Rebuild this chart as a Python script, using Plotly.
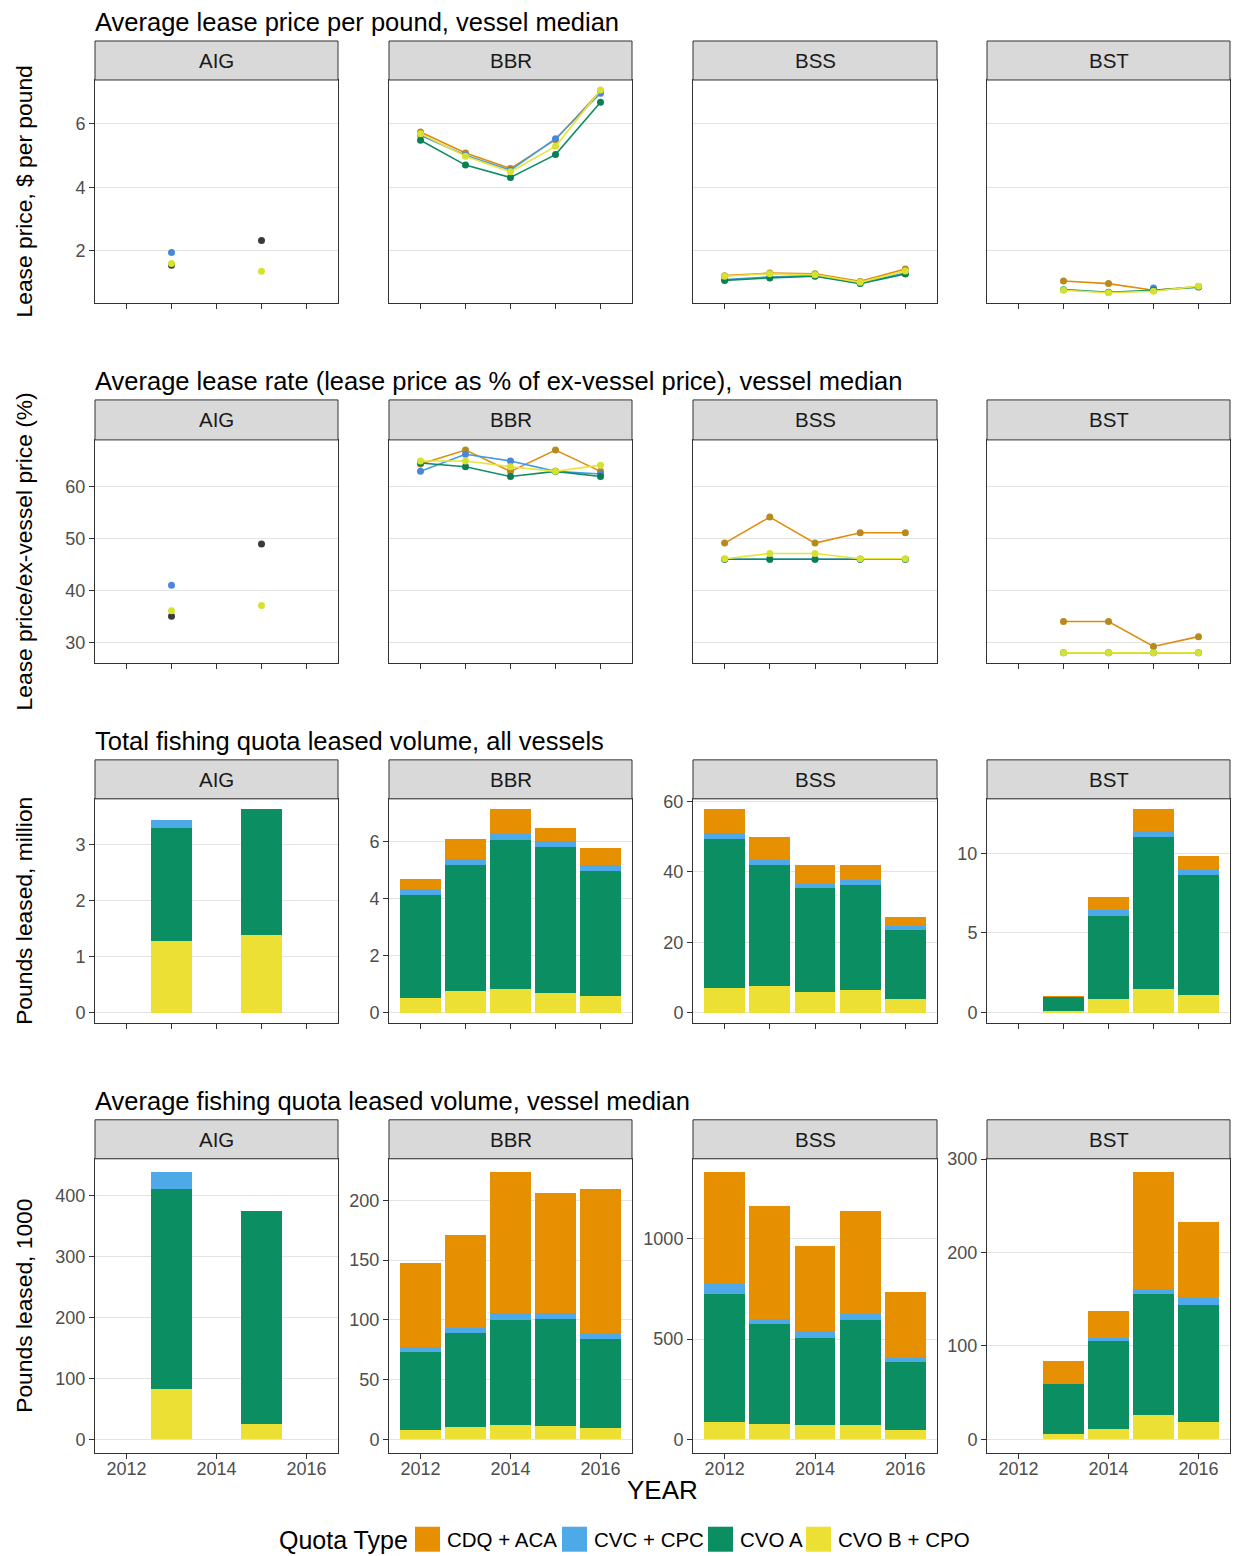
import plotly.graph_objects as go

# ---------------- data ----------------
years = [2012, 2013, 2014, 2015, 2016]
regions = ["AIG", "BBR", "BSS", "BST"]
quota_types = ["CDQ + ACA", "CVC + CPC", "CVO A", "CVO B + CPO"]

row_titles = [
    "Average lease price per pound, vessel median",
    "Average lease rate (lease price as % of ex-vessel price), vessel median",
    "Total fishing quota leased volume, all vessels",
    "Average fishing quota leased volume, vessel median",
]
row_ylabels = [
    "Lease price, $ per pound",
    "Lease price/ex-vessel price (%)",
    "Pounds leased, million",
    "Pounds leased, 1000",
]

# Row 1: average lease price per pound ($)
price_AIG = {"CVC + CPC": [None, 1.95, None, None, None],
             "CVO B + CPO": [None, 1.60, None, 1.36, None],
             "Other": [None, 1.55, None, 2.33, None]}
price_BBR = {"CDQ + ACA": [5.74, 5.08, 4.59, 5.50, 7.04],
             "CVC + CPC": [5.64, 5.01, 4.54, 5.53, 6.96],
             "CVO A": [5.48, 4.70, 4.31, 5.03, 6.68],
             "CVO B + CPO": [5.69, 4.98, 4.49, 5.29, 7.06]}
price_BSS = {"CDQ + ACA": [1.22, 1.30, 1.28, 1.04, 1.43],
             "CVC + CPC": [1.10, 1.18, 1.22, 0.99, 1.30],
             "CVO A": [1.07, 1.15, 1.20, 0.97, 1.27],
             "CVO B + CPO": [1.20, 1.28, 1.25, 1.01, 1.37]}
price_BST = {"CDQ + ACA": [None, 1.05, 0.97, 0.76, 0.88],
             "CVC + CPC": [None, None, None, 0.83, None],
             "CVO A": [None, 0.78, 0.70, 0.76, 0.86],
             "CVO B + CPO": [None, 0.76, 0.68, 0.73, 0.89]}

# Row 2: lease rate (% of ex-vessel price)
rate_AIG = {"CVC + CPC": [None, 41.0, None, None, None],
            "CVO B + CPO": [None, 36.1, None, 37.1, None],
            "Other": [None, 35.0, None, 48.9, None]}
rate_BBR = {"CDQ + ACA": [64.3, 67.0, 62.9, 67.0, 62.9],
            "CVC + CPC": [62.9, 66.2, 64.9, 62.9, 62.4],
            "CVO A": [64.5, 63.8, 61.9, 62.9, 61.9],
            "CVO B + CPO": [64.9, 64.9, 63.8, 62.9, 64.1]}
rate_BSS = {"CDQ + ACA": [49.1, 54.1, 49.1, 51.1, 51.1],
            "CVC + CPC": [46.0, 46.0, 46.0, 46.0, 46.0],
            "CVO A": [46.0, 46.0, 46.0, 46.0, 46.0],
            "CVO B + CPO": [46.1, 47.1, 47.1, 46.1, 46.1]}
rate_BST = {"CDQ + ACA": [None, 34.0, 34.0, 29.2, 31.1],
            "CVO A": [None, 28.0, 28.0, 28.0, 28.0],
            "CVO B + CPO": [None, 28.0, 28.0, 28.0, 28.0]}

# Row 3: total leased volume, million lbs (stack segments)
total_AIG = {"CDQ + ACA": [None, None, None, None, None],
             "CVC + CPC": [None, 0.15, None, None, None],
             "CVO A": [None, 2.02, None, 2.26, None],
             "CVO B + CPO": [None, 1.28, None, 1.38, None]}
total_BBR = {"CDQ + ACA": [0.35, 0.71, 0.88, 0.46, 0.59],
             "CVC + CPC": [0.20, 0.20, 0.21, 0.24, 0.21],
             "CVO A": [3.64, 4.43, 5.24, 5.12, 4.39],
             "CVO B + CPO": [0.50, 0.76, 0.82, 0.68, 0.59]}
total_BSS = {"CDQ + ACA": [6.7, 6.6, 5.4, 4.3, 2.8],
             "CVC + CPC": [1.9, 1.4, 1.2, 1.4, 1.0],
             "CVO A": [42.4, 34.3, 29.4, 29.9, 19.7],
             "CVO B + CPO": [6.9, 7.7, 6.0, 6.4, 3.8]}
total_BST = {"CDQ + ACA": [None, 0.05, 0.84, 1.36, 0.83],
             "CVC + CPC": [None, 0.0, 0.37, 0.37, 0.38],
             "CVO A": [None, 0.87, 5.23, 9.56, 7.53],
             "CVO B + CPO": [None, 0.13, 0.84, 1.49, 1.11]}

# Row 4: median leased volume, 1000 lbs (stack segments)
median_AIG = {"CDQ + ACA": [None, None, None, None, None],
              "CVC + CPC": [None, 27.1, None, None, None],
              "CVO A": [None, 328.2, None, 349.9, None],
              "CVO B + CPO": [None, 82.7, None, 24.5, None]}
median_BBR = {"CDQ + ACA": [70.3, 77.8, 118.0, 100.0, 120.5],
              "CVC + CPC": [4.7, 3.9, 5.6, 5.0, 4.5],
              "CVO A": [65.3, 78.6, 87.8, 90.0, 75.0],
              "CVO B + CPO": [7.5, 10.3, 12.2, 11.1, 9.4]}
median_BSS = {"CDQ + ACA": [560.0, 566.6, 422.6, 513.0, 331.0],
              "CVC + CPC": [49.5, 24.5, 33.0, 28.0, 20.0],
              "CVO A": [637.5, 496.5, 435.0, 523.0, 339.0],
              "CVO B + CPO": [86.0, 78.0, 73.0, 73.0, 45.0]}
median_BST = {"CDQ + ACA": [None, 25.6, 29.2, 125.0, 81.6],
              "CVC + CPC": [None, 0.0, 1.8, 5.0, 7.1],
              "CVO A": [None, 53.5, 95.5, 130.4, 125.8],
              "CVO B + CPO": [None, 5.3, 10.7, 25.6, 18.5]}

row_data = [
    [price_AIG, price_BBR, price_BSS, price_BST],
    [rate_AIG, rate_BBR, rate_BSS, rate_BST],
    [total_AIG, total_BBR, total_BSS, total_BST],
    [median_AIG, median_BBR, median_BSS, median_BST],
]

# ---------------- styles ----------------
W, H = 1236, 1556
FONT = "Liberation Sans, Arial, Helvetica, sans-serif"
bar_colors = {"CDQ + ACA": "#E68F00", "CVC + CPC": "#4EA9E8",
              "CVO A": "#0B8E62", "CVO B + CPO": "#ECE034"}
line_colors = {"CDQ + ACA": "#E08C0A", "CVC + CPC": "#3F9BE6",
               "CVO A": "#0B8E62", "CVO B + CPO": "#E8E43A", "Other": "#3A3A3A"}
marker_colors = {"CDQ + ACA": "#B88A1E", "CVC + CPC": "#4A86DE",
                 "CVO A": "#0A7F55", "CVO B + CPO": "#D6E232", "Other": "#3A3A3A"}

col_px = [(95, 338), (389, 632), (693, 937), (987, 1230)]
row_px = [(40, 79, 302), (399, 439, 662), (759, 798, 1022), (1119, 1158, 1452)]
row_tick_steps = [
    [2, 2, 2, 2],
    [10, 10, 10, 10],
    [1, 2, 20, 5],
    [100, 50, 500, 100],
]
XRANGE = [2011.3, 2016.7]

# vertical calibration of the rendered page (observed offset/compression)
Y_OFF, Y_SCALE = 8.0, 0.9944


def fx(px):
    return px / W


def fy(py):
    p = (py - Y_OFF) / Y_SCALE
    return 1 - p / H


fig = go.Figure()
layout = dict(
    width=W, height=H, margin=dict(l=0, r=0, t=0, b=0),
    paper_bgcolor="white", plot_bgcolor="white",
    barmode="stack", showlegend=False,
    font=dict(family=FONT, color="#000000"),
)
shapes = []
annotations = []

for r in range(4):
    strip_top, p_top, p_bot = row_px[r]
    if r < 2:
        vals = [v for d in row_data[r] for lst in d.values() for v in lst if v is not None]
        lo, hi = min(vals), max(vals)
        pad = 0.05 * (hi - lo)
        shared_range = [lo - pad, hi + pad]
    for c in range(4):
        k = r * 4 + c + 1
        xname = "x" if k == 1 else f"x{k}"
        yname = "y" if k == 1 else f"y{k}"
        left, right = col_px[c]
        data = row_data[r][c]

        if r < 2:
            order = ["Other"] + quota_types
            for q in order:
                if q not in data:
                    continue
                is_other = q == "Other" or c == 0
                fig.add_trace(go.Scatter(
                    x=years, y=data[q], xaxis=xname, yaxis=yname,
                    mode="markers" if is_other else "lines+markers",
                    line=dict(color=line_colors[q], width=1.6),
                    marker=dict(color=marker_colors[q], size=7),
                    connectgaps=False, showlegend=False, name=q,
                ))
            yrange = shared_range
        else:
            for q in reversed(quota_types):
                fig.add_trace(go.Bar(
                    x=years, y=data[q], xaxis=xname, yaxis=yname,
                    width=0.9, marker=dict(color=bar_colors[q], line=dict(width=0)),
                    showlegend=False, name=q,
                ))
            totals = [sum(data[q][i] or 0 for q in quota_types) for i in range(len(years))]
            top = max(totals)
            yrange = [-0.05 * top, 1.05 * top]

        step = row_tick_steps[r][c]
        first = step * int((yrange[0] // step) + 1)
        tvals = []
        t = first
        while t <= yrange[1]:
            tvals.append(round(t, 6))
            t += step
        show_y = (r >= 2) or (c == 0)

        xaxis = dict(
            domain=[fx(left), fx(right)], anchor=yname, range=XRANGE,
            showgrid=False, zeroline=False,
            showline=True, mirror=True, linecolor="#333333", linewidth=1,
            ticks="outside", ticklen=5, tickwidth=1, tickcolor="#333333",
            tickfont=dict(family=FONT, size=18, color="#4D4D4D"),
            fixedrange=True,
        )
        if r == 3:
            xaxis.update(tickvals=[2012, 2014, 2016], ticktext=["2012", "2014", "2016"],
                         showticklabels=True, ticklabelstandoff=-5)
        else:
            xaxis.update(tickvals=years, showticklabels=False)
        yaxis = dict(
            domain=[fy(p_bot), fy(p_top)], anchor=xname, range=yrange,
            tickvals=tvals, ticktext=[f"{v:g}" for v in tvals],
            showgrid=True, gridcolor="#E3E3E3", gridwidth=1, zeroline=False,
            showline=True, mirror=True, linecolor="#333333", linewidth=1,
            ticks="outside" if show_y else "", ticklen=5, tickwidth=1, tickcolor="#333333",
            showticklabels=show_y,
            tickfont=dict(family=FONT, size=18, color="#4D4D4D"),
            fixedrange=True,
        )
        layout["xaxis" if k == 1 else f"xaxis{k}"] = xaxis
        layout["yaxis" if k == 1 else f"yaxis{k}"] = yaxis

        shapes.append(dict(type="rect", xref="paper", yref="paper",
                           x0=fx(left), x1=fx(right), y0=fy(p_top), y1=fy(strip_top),
                           fillcolor="#D9D9D9", line=dict(color="#333333", width=1),
                           layer="above"))
        annotations.append(dict(text=regions[c], xref="paper", yref="paper",
                                x=fx((left + right) / 2), y=fy((strip_top + p_top) / 2),
                                xanchor="center", yanchor="middle", showarrow=False,
                                font=dict(family=FONT, size=20.5, color="#1A1A1A")))

    annotations.append(dict(text=row_titles[r], xref="paper", yref="paper",
                            x=fx(93), y=fy(strip_top - 19), xanchor="left", yanchor="middle",
                            showarrow=False, font=dict(family=FONT, size=25.5, color="#000000")))
    annotations.append(dict(text=row_ylabels[r], xref="paper", yref="paper",
                            x=fx(24), y=fy((p_top + p_bot) / 2), xanchor="center", yanchor="middle",
                            textangle=-90, showarrow=False,
                            font=dict(family=FONT, size=22.8, color="#000000")))

annotations.append(dict(text="YEAR", xref="paper", yref="paper", x=fx(662), y=fy(1489),
                        xanchor="center", yanchor="middle", showarrow=False,
                        font=dict(family=FONT, size=26, color="#000000")))

LEG_Y = 1539
annotations.append(dict(text="Quota Type", xref="paper", yref="paper", x=fx(410), y=fy(LEG_Y),
                        xanchor="right", yanchor="middle", showarrow=False,
                        font=dict(family=FONT, size=25, color="#000000")))
legend_box_x = [415, 562, 708, 806]
for q, bx in zip(quota_types, legend_box_x):
    shapes.append(dict(type="rect", xref="paper", yref="paper",
                       x0=fx(bx), x1=fx(bx + 25), y0=fy(LEG_Y + 12), y1=fy(LEG_Y - 13),
                       fillcolor=bar_colors[q], line=dict(width=0)))
    annotations.append(dict(text=q, xref="paper", yref="paper", x=fx(bx + 30), y=fy(LEG_Y),
                            xanchor="left", yanchor="middle", showarrow=False,
                            font=dict(family=FONT, size=20.5, color="#000000")))

layout["shapes"] = shapes
layout["annotations"] = annotations
fig.update_layout(**layout)

page_fix = ("document.documentElement.style.margin='0';"
            "document.body.style.margin='0';document.body.style.padding='0';"
            "document.body.style.overflow='hidden';"
            "document.documentElement.style.overflow='hidden';"
            "var gd=document.getElementById('{plot_id}');"
            "gd.style.position='fixed';gd.style.top='0px';gd.style.left='0px';")
fig.write_html("out.html", post_script=page_fix, config={"displayModeBar": False})
